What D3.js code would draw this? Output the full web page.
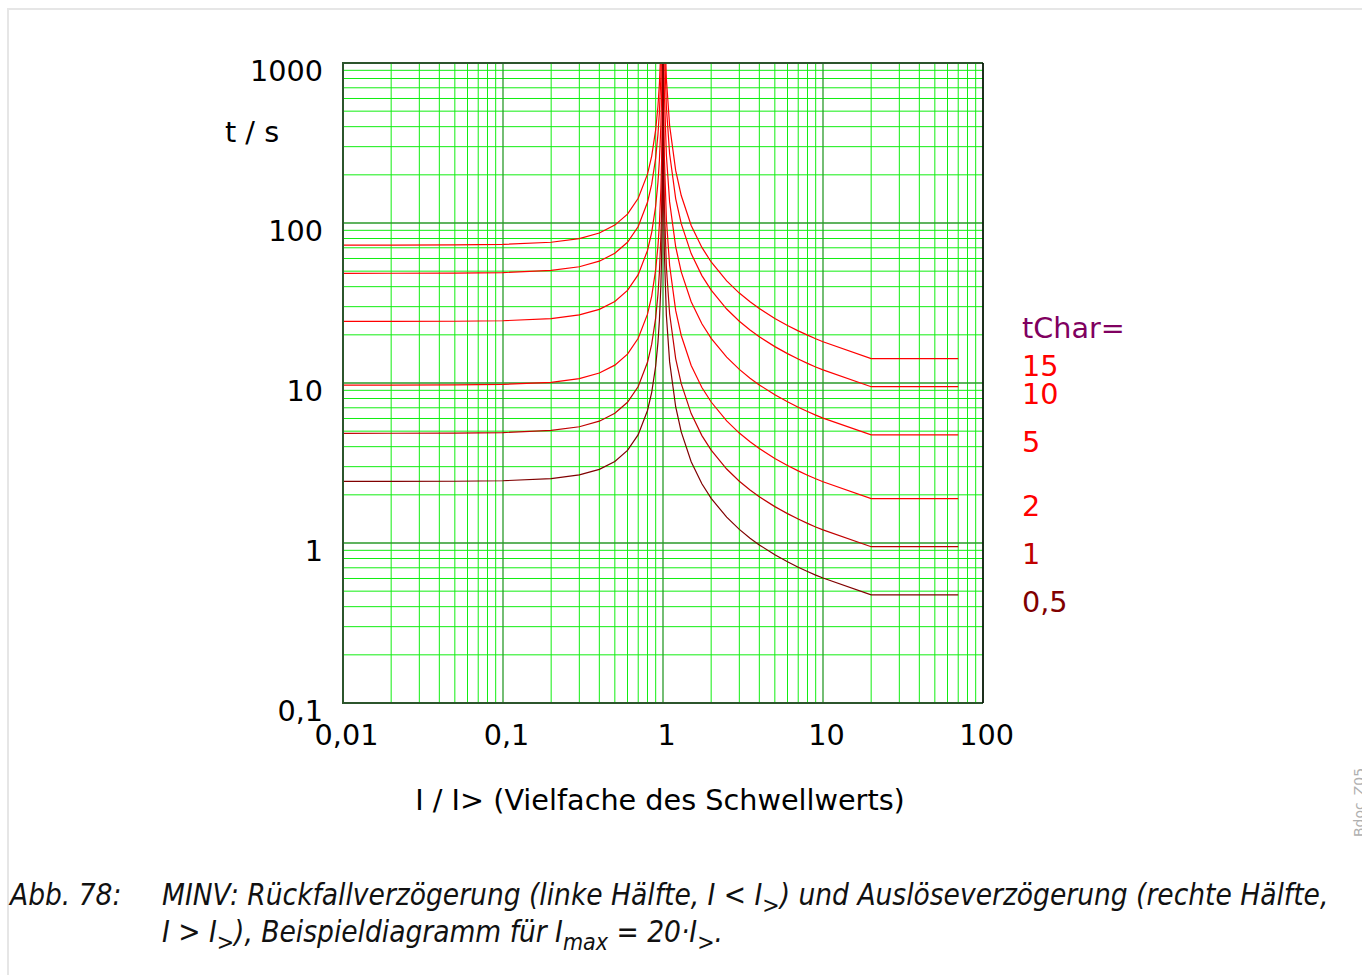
<!DOCTYPE html>
<html>
  <head>
    <meta charset="UTF-8">
    <style>
      body { margin: 0; background: #fff; }
      svg text { font-family: "DejaVu Sans", sans-serif; }
      .caption { font-family: "DejaVu Sans Condensed", "DejaVu Sans", sans-serif; font-style: italic; font-stretch: condensed; }
    </style>
  </head>
  <body>
    <svg id="chart" width="1362" height="975"></svg>

    <script src="https://d3js.org/d3.v7.min.js"></script>
    <script>
      // I/I> below the threshold (reset delay) and above it (trip delay)
      var currentLow = [0.01, 0.02, 0.05, 0.1, 0.2, 0.3, 0.4, 0.5, 0.6, 0.7, 0.8, 0.85, 0.9, 0.93, 0.95, 0.97, 0.98, 0.99, 0.995, 0.998, 0.999];
      var currentHigh = [1.001, 1.002, 1.005, 1.01, 1.02, 1.05, 1.1, 1.2, 1.3, 1.5, 1.75, 2, 2.5, 3, 3.5, 4, 5, 6, 7, 8, 9, 10, 20, 70];

      var tChars = [15, 10, 5, 2, 1, 0.5];
      var tCharLabels = ["15", "10", "5", "2", "1", "0,5"];

      // t / s, reset branch (currentLow)
      var reset15 = [72.75, 72.78, 72.93, 73.49, 75.78, 79.95, 86.61, 97.01, 113.7, 142.7, 202.1, 262.2, 383.0, 538.5, 746.1, 1231, 1838, 3656, 7293, 18210, 36390];
      var reset10 = [48.5, 48.52, 48.62, 48.99, 50.52, 53.30, 57.74, 64.67, 75.78, 95.10, 134.7, 174.8, 255.3, 359.0, 497.4, 820.7, 1225, 2437, 4862, 12140, 24260];
      var reset5 = [24.25, 24.26, 24.31, 24.50, 25.26, 26.65, 28.87, 32.34, 37.89, 47.55, 67.35, 87.40, 127.7, 179.5, 248.7, 410.4, 612.5, 1219, 2431, 6070, 12130];
      var reset2 = [9.70, 9.704, 9.724, 9.798, 10.10, 10.66, 11.55, 12.93, 15.16, 19.02, 26.94, 34.96, 51.06, 71.80, 99.48, 164.1, 245.0, 487.4, 972.4, 2428, 4852];
      var reset1 = [4.85, 4.852, 4.862, 4.899, 5.052, 5.330, 5.774, 6.467, 7.578, 9.510, 13.47, 17.48, 25.53, 35.90, 49.74, 82.07, 122.5, 243.7, 486.2, 1214, 2426];
      var reset05 = [2.425, 2.426, 2.431, 2.450, 2.526, 2.665, 2.887, 3.234, 3.789, 4.755, 6.735, 8.74, 12.77, 17.95, 24.87, 41.04, 61.25, 121.9, 243.1, 607, 1213];

      // t / s, trip branch (currentHigh)
      var trip15 = [38640, 19330, 7745, 3884, 1952, 792.9, 406.5, 213.2, 148.5, 96.59, 70.35, 57.05, 43.49, 36.48, 32.16, 29.19, 25.32, 22.89, 21.18, 19.91, 18.90, 18.11, 14.22, 14.22];
      var trip10 = [25760, 12890, 5164, 2589, 1301, 528.6, 271.0, 142.1, 99.03, 64.39, 46.90, 38.03, 28.99, 24.32, 21.44, 19.46, 16.88, 15.26, 14.12, 13.27, 12.60, 12.07, 9.48, 9.48];
      var trip5 = [12880, 6445, 2582, 1295, 650.5, 264.3, 135.5, 71.05, 49.52, 32.20, 23.45, 19.02, 14.50, 12.16, 10.72, 9.73, 8.44, 7.63, 7.06, 6.635, 6.30, 6.035, 4.74, 4.74];
      var trip2 = [5152, 2578, 1033, 517.8, 260.2, 105.7, 54.20, 28.42, 19.81, 12.88, 9.380, 7.606, 5.798, 4.864, 4.288, 3.892, 3.376, 3.052, 2.824, 2.654, 2.520, 2.414, 1.896, 1.896];
      var trip1 = [2576, 1289, 516.3, 258.9, 130.1, 52.86, 27.10, 14.21, 9.903, 6.439, 4.690, 3.803, 2.899, 2.432, 2.144, 1.946, 1.688, 1.526, 1.412, 1.327, 1.260, 1.207, 0.948, 0.948];
      var trip05 = [1288, 644.5, 258.2, 129.5, 65.05, 26.43, 13.55, 7.105, 4.952, 3.220, 2.345, 1.902, 1.450, 1.216, 1.072, 0.973, 0.844, 0.763, 0.706, 0.664, 0.630, 0.604, 0.474, 0.474];

      var xTicks = [0.01, 0.1, 1, 10, 100];
      var yTicks = [0.1, 1, 10, 100, 1000];

      var resets = [reset15, reset10, reset5, reset2, reset1, reset05];
      var trips = [trip15, trip10, trip5, trip2, trip1, trip05];
      var curveColors = ["#ff0000", "#ff0000", "#ff0000", "#ff0000", "#c00000", "#800000"];

      var svg = d3.select("#chart");

      var x = d3.scaleLog().domain([0.01, 100]).range([343, 983]);
      var y = d3.scaleLog().domain([0.1, 1000]).range([703, 63]);

      var isMajor = function(v) { return Math.abs(Math.log10(v) - Math.round(Math.log10(v))) < 1e-9; };
      var fs = 28.7;

      // outer frame of the figure
      svg.append("path")
          .attr("d", "M8,975V9H1362")
          .attr("fill", "none")
          .attr("stroke", "#e6e6e6")
          .attr("stroke-width", 2);

      // grid
      var grid = svg.append("g");
      grid.selectAll(".vx")
        .data(x.ticks().filter(function(d) { return !isMajor(d); }))
        .enter().append("line")
          .attr("x1", function(d) { return x(d); })
          .attr("x2", function(d) { return x(d); })
          .attr("y1", y(1000)).attr("y2", y(0.1))
          .attr("stroke", "#11ee11").attr("stroke-width", 1);
      grid.selectAll(".hy")
        .data(y.ticks().filter(function(d) { return !isMajor(d); }))
        .enter().append("line")
          .attr("y1", function(d) { return y(d); })
          .attr("y2", function(d) { return y(d); })
          .attr("x1", x(0.01)).attr("x2", x(100))
          .attr("stroke", "#11ee11").attr("stroke-width", 1);
      grid.selectAll(".vmaj")
        .data(xTicks)
        .enter().append("line")
          .attr("x1", function(d) { return x(d); })
          .attr("x2", function(d) { return x(d); })
          .attr("y1", y(1000)).attr("y2", y(0.1))
          .attr("stroke", "#2a9a2a").attr("stroke-width", 1.3);
      grid.selectAll(".hmaj")
        .data(yTicks)
        .enter().append("line")
          .attr("y1", function(d) { return y(d); })
          .attr("y2", function(d) { return y(d); })
          .attr("x1", x(0.01)).attr("x2", x(100))
          .attr("stroke", "#2a9a2a").attr("stroke-width", 1.3);

      // curves
      svg.append("clipPath").attr("id", "plotclip")
        .append("rect")
          .attr("x", x(0.01)).attr("y", y(1000))
          .attr("width", x(100) - x(0.01)).attr("height", y(0.1) - y(1000));

      var line = d3.line()
          .x(function(d) { return x(d[0]); })
          .y(function(d) { return y(d[1]); });

      var curves = svg.append("g").attr("clip-path", "url(#plotclip)");
      tChars.forEach(function(tc, i) {
        var low = currentLow.map(function(c, j) { return [c, resets[i][j]]; });
        var high = currentHigh.map(function(c, j) { return [c, trips[i][j]]; });
        [low, high].forEach(function(pts) {
          curves.append("path")
              .attr("d", line(pts))
              .attr("fill", "none")
              .attr("stroke", curveColors[i])
              .attr("stroke-width", 1.2);
        });
      });

      // plot frame
      svg.append("path")
          .attr("d", "M" + x(100) + "," + y(0.1) + "H" + x(0.01) + "V" + y(1000) + "H" + x(100))
          .attr("fill", "none").attr("stroke", "#2c552c").attr("stroke-width", 2);
      svg.append("line")
          .attr("x1", x(100)).attr("x2", x(100)).attr("y1", y(1000)).attr("y2", y(0.1))
          .attr("stroke", "#000").attr("stroke-width", 1.5);

      var fmt = function(d) { return String(d).replace(".", ","); };

      var yAxis = svg.append("g")
          .attr("transform", "translate(" + x(0.01) + ",0)")
          .call(d3.axisLeft(y).tickValues(yTicks).tickFormat(fmt).tickSize(0).tickPadding(20));
      var xAxis = svg.append("g")
          .attr("transform", "translate(0," + y(0.1) + ")")
          .call(d3.axisBottom(x).tickValues(xTicks).tickFormat(fmt).tickSize(0).tickPadding(22));
      [xAxis, yAxis].forEach(function(a) {
        a.select(".domain").remove();
        a.selectAll("text")
            .attr("font-family", "DejaVu Sans")
            .attr("font-size", fs)
            .attr("fill", "#000");
      });
      yAxis.selectAll("text").attr("dy", "0.6em");
      xAxis.selectAll("text").attr("dx", 3);

      svg.append("text")
          .attr("x", 225).attr("y", 142)
          .attr("font-size", fs)
          .text("t / s");
      svg.append("text")
          .attr("x", 660).attr("y", 810)
          .attr("text-anchor", "middle")
          .attr("font-size", fs)
          .text("I / I> (Vielfache des Schwellwerts)");

      // legend, placed at the level of each curve's flat end
      svg.append("text")
          .attr("x", 1022).attr("y", 338)
          .attr("font-size", fs)
          .attr("fill", "#800060")
          .text("tChar=");
      svg.selectAll(".lab")
        .data(tChars)
        .enter().append("text")
          .attr("x", 1022)
          .attr("y", function(d, i) { return y(trips[i][trips[i].length - 1]) + 17; })
          .attr("font-size", fs)
          .attr("fill", function(d, i) { return i < 4 ? "#ff0000" : curveColors[i]; })
          .text(function(d, i) { return tCharLabels[i]; });

      // side mark
      svg.append("text")
          .attr("transform", "translate(1364,837) rotate(-90)")
          .attr("font-size", 14)
          .attr("fill", "#b0b0b0")
          .text("Bdoc_Z05");

      // caption
      var cap = svg.append("g").attr("class", "caption").attr("font-size", 29.5).attr("fill", "#111");
      cap.append("text").attr("x", 10).attr("y", 905).text("Abb. 78:");
      var l1 = cap.append("text").attr("x", 162).attr("y", 905);
      l1.append("tspan").text("MINV: Rückfallverzögerung (linke Hälfte, I < I");
      l1.append("tspan").attr("dy", 8).attr("font-size", 23).text(">");
      l1.append("tspan").attr("dy", -8).text(") und Auslöseverzögerung (rechte Hälfte,");
      var l2 = cap.append("text").attr("x", 162).attr("y", 942);
      l2.append("tspan").text("I > I");
      l2.append("tspan").attr("dy", 8).attr("font-size", 23).text(">");
      l2.append("tspan").attr("dy", -8).text("), Beispieldiagramm für I");
      l2.append("tspan").attr("dy", 8).attr("font-size", 23).text("max");
      l2.append("tspan").attr("dy", -8).text(" = 20·I");
      l2.append("tspan").attr("dy", 8).attr("font-size", 23).text(">");
      l2.append("tspan").attr("dy", -8).text(".");
    </script>
  </body>
</html>
